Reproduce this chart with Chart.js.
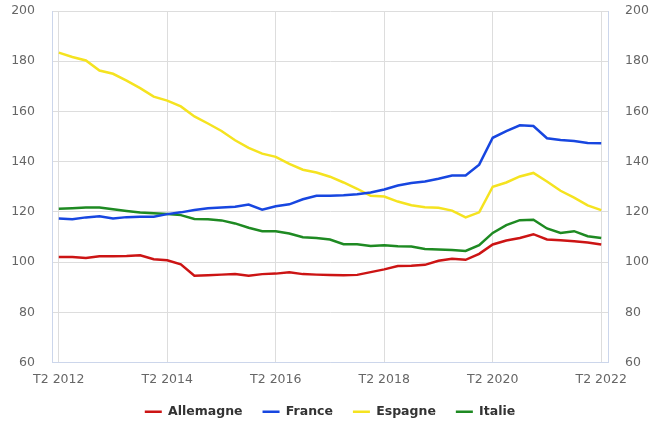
<!DOCTYPE html>
<html>
<head>
<meta charset="utf-8">
<script src="https://cdn.jsdelivr.net/npm/chart.js@4"></script>
<style>
  html, body { margin: 0; padding: 0; background: #fff; }
  #wrap { width: 660px; height: 440px; }
</style>
</head>
<body>
<div id="wrap"><canvas id="grafico"></canvas></div>
<script>
// trimestres T2 2012 -> T2 2022
var trimestres = [
  'T2 2012', 'T3 2012', 'T4 2012', 'T1 2013', 'T2 2013', 'T3 2013', 'T4 2013', 'T1 2014',
  'T2 2014', 'T3 2014', 'T4 2014', 'T1 2015', 'T2 2015', 'T3 2015', 'T4 2015', 'T1 2016',
  'T2 2016', 'T3 2016', 'T4 2016', 'T1 2017', 'T2 2017', 'T3 2017', 'T4 2017', 'T1 2018',
  'T2 2018', 'T3 2018', 'T4 2018', 'T1 2019', 'T2 2019', 'T3 2019', 'T4 2019', 'T1 2020',
  'T2 2020', 'T3 2020', 'T4 2020', 'T1 2021', 'T2 2021', 'T3 2021', 'T4 2021', 'T1 2022',
  'T2 2022'
];

var allemagne = [
  102.0, 102.0, 101.6, 102.3, 102.3, 102.4, 102.7, 101.1,
  100.7, 99.1, 94.6, 94.8, 95.0, 95.2, 94.6, 95.2,
  95.4, 95.9, 95.2, 95.0, 94.9, 94.8, 94.9, 96.0,
  97.1, 98.4, 98.5, 98.9, 100.5, 101.3, 100.9, 103.3,
  107.0, 108.6, 109.6, 111.1, 109.0, 108.7, 108.3, 107.8,
  107.0
];
var france = [
  117.4, 117.1, 117.8, 118.2, 117.4, 117.9, 118.1, 118.1,
  119.1, 119.8, 120.7, 121.4, 121.7, 122.0, 122.9, 120.9,
  122.2, 123.0, 125.0, 126.4, 126.4, 126.6, 127.0, 127.7,
  128.9, 130.5, 131.5, 132.1, 133.2, 134.5, 134.5, 138.8,
  149.5, 152.2, 154.5, 154.2, 149.3, 148.6, 148.2, 147.4,
  147.3
];
var espagne = [
  183.4, 181.7, 180.3, 176.3, 175.0, 172.3, 169.3, 165.9,
  164.3, 162.0, 158.0, 155.2, 152.2, 148.5, 145.5, 143.2,
  141.9, 139.1, 136.8, 135.7, 134.0, 131.7, 129.2, 126.4,
  126.1, 124.1, 122.6, 121.8, 121.6, 120.5, 117.8, 119.8,
  130.0, 131.7, 134.1, 135.5, 132.1, 128.4, 125.7, 122.6,
  120.7
];
var italie = [
  121.2, 121.4, 121.7, 121.7, 121.0, 120.3, 119.7, 119.4,
  119.1, 118.7, 117.2, 117.1, 116.6, 115.4, 113.7, 112.3,
  112.3, 111.4, 109.9, 109.6, 109.0, 107.1, 107.1, 106.4,
  106.7, 106.3, 106.2, 105.2, 105.0, 104.8, 104.4, 106.7,
  111.6, 114.7, 116.7, 116.9, 113.4, 111.6, 112.3, 110.3,
  109.6
];

var yMin = 60, yMax = 200, yPas = 20;
var pasEtiquette = 8; // une étiquette tous les 8 trimestres

var couleurGrille = '#dddddd';
var couleurAxe = '#ccd6eb';
var policeAxe = { family: 'DejaVu Sans', size: 12.5 };

function serie(nom, valeurs, couleur) {
  return {
    label: nom,
    data: valeurs,
    borderColor: couleur,
    backgroundColor: couleur,
    borderWidth: 2.5,
    pointRadius: 0,
    pointHoverRadius: 0,
    tension: 0,
    fill: false,
    yAxisID: 'y'
  };
}

// largeur fixe des axes verticaux, sans marge auto en haut/bas
function axeFixe(largeur) {
  return function(s) {
    s.width = largeur;
    s.paddingTop = 0;
    s.paddingBottom = 0;
  };
}

var ctx = document.getElementById('grafico').getContext('2d');
var myChart = new Chart(ctx, {
  type: 'line',
  data: {
    labels: trimestres,
    datasets: [
      serie('Allemagne', allemagne, '#cc1414'),
      serie('France', france, '#1746e0'),
      serie('Espagne', espagne, '#f5e320'),
      serie('Italie', italie, '#1e8a22')
    ]
  },
  options: {
    responsive: true,
    maintainAspectRatio: false,
    animation: false,
    layout: { padding: { left: 0, right: 0, top: 11, bottom: 12 } },
    plugins: {
      tooltip: { enabled: false },
      legend: {
        position: 'bottom',
        labels: {
          usePointStyle: true,
          pointStyle: 'line',
          pointStyleWidth: 17,
          boxHeight: 13,
          padding: 20,
          color: '#333',
          font: { family: 'DejaVu Sans', size: 12.5, weight: 'bold' }
        }
      }
    },
    scales: {
      x: {
        offset: true,
        afterFit: function(s) { s.height -= 12; s.paddingLeft = 0; s.paddingRight = 0; },
        grid: {
          offset: false,
          drawTicks: false,
          color: function(c) { return c.index % pasEtiquette === 0 ? couleurGrille : 'rgba(0,0,0,0)'; }
        },
        border: { color: couleurAxe },
        ticks: {
          autoSkip: false,
          maxRotation: 0,
          padding: 10,
          color: '#666',
          font: policeAxe,
          callback: function(val, i) { return i % pasEtiquette === 0 ? trimestres[i] : ''; }
        }
      },
      y: {
        position: 'left',
        min: yMin,
        max: yMax,
        afterFit: axeFixe(52),
        grid: { color: couleurGrille, drawTicks: false },
        border: { color: couleurAxe },
        ticks: { stepSize: yPas, padding: 17, color: '#666', font: policeAxe }
      },
      y2: {
        position: 'right',
        min: yMin,
        max: yMax,
        afterFit: axeFixe(52),
        grid: { drawOnChartArea: false, drawTicks: false },
        border: { color: couleurAxe },
        ticks: { stepSize: yPas, padding: 17, color: '#666', font: policeAxe }
      }
    }
  }
});
</script>
</body>
</html>
